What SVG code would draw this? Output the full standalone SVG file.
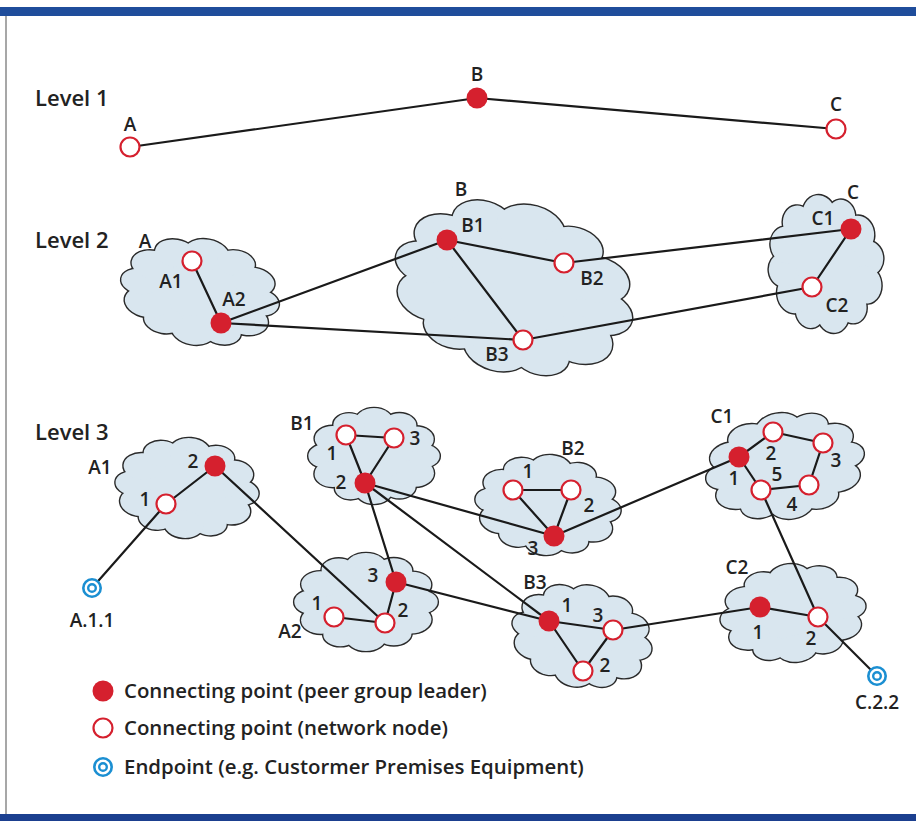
<svg xmlns="http://www.w3.org/2000/svg" xmlns:xlink="http://www.w3.org/1999/xlink" width="916" height="821" viewBox="0 0 916 821">
<style>
.co{fill:#2a2a2a;stroke:#2a2a2a;stroke-width:2.8}
.cf{fill:#d9e6ef;stroke:none}
.ln{stroke:#1a1a1a;stroke-width:2.2;fill:none;stroke-linecap:round}
.pl{fill:#d5202e}
.nn{fill:#fff;stroke:#d5202e;stroke-width:2.2}
.ep{fill:#fff;stroke:#1b8fd2;stroke-width:2.6}
.epi{fill:none;stroke:#1b8fd2;stroke-width:2.4}
.t{font-family:"Open Sans","Liberation Sans",sans-serif;font-weight:600;fill:#222}
.lab{font-size:19px;text-anchor:middle}
.lvl{font-size:22px}
.leg{font-size:20.4px}
</style>
<defs>
<g id="cu">
<circle cx="0" cy="0" r="80" vector-effect="non-scaling-stroke"/>
<circle cx="76" cy="0" r="25" vector-effect="non-scaling-stroke"/>
<circle cx="63.4" cy="38.1" r="28" vector-effect="non-scaling-stroke"/>
<circle cx="36.1" cy="68" r="24" vector-effect="non-scaling-stroke"/>
<circle cx="0" cy="74" r="28" vector-effect="non-scaling-stroke"/>
<circle cx="-39.1" cy="65.1" r="25" vector-effect="non-scaling-stroke"/>
<circle cx="-63.2" cy="36.5" r="29" vector-effect="non-scaling-stroke"/>
<circle cx="-77" cy="0" r="24" vector-effect="non-scaling-stroke"/>
<circle cx="-64.8" cy="-35.9" r="27" vector-effect="non-scaling-stroke"/>
<circle cx="-39.1" cy="-65.1" r="26" vector-effect="non-scaling-stroke"/>
<circle cx="0" cy="-73" r="29" vector-effect="non-scaling-stroke"/>
<circle cx="38.5" cy="-66.7" r="24" vector-effect="non-scaling-stroke"/>
<circle cx="64.1" cy="-37" r="27" vector-effect="non-scaling-stroke"/>
</g>
</defs>
<rect x="0" y="0" width="916" height="821" fill="#fff"/>
<rect x="0" y="7" width="916" height="9" fill="#1f4d9b"/>
<rect x="0" y="814" width="916" height="7" fill="#1b3f8f"/>
<line x1="6" y1="16" x2="6" y2="814" stroke="#8a8a8a" stroke-width="1.5"/>

<!-- level titles -->
<g id="level-titles" class="t lvl">
<text x="35" y="106">Level 1</text>
<text x="35" y="248">Level 2</text>
<text x="35" y="440">Level 3</text>
</g>

<!-- clouds (peer groups) -->
<g id="cloud-L2-A" transform="translate(200,292) rotate(10) scale(0.79,0.52)"><use href="#cu" class="co"/><use href="#cu" class="cf"/></g>
<g id="cloud-L2-B" transform="translate(514,288) rotate(16) scale(1.21,0.83)"><use href="#cu" class="co"/><use href="#cu" class="cf"/></g>
<g id="cloud-L2-C" transform="translate(826,264) rotate(-8) scale(0.57,0.68)"><use href="#cu" class="co"/><use href="#cu" class="cf"/></g>
<g id="cloud-L3-A1" transform="translate(187,488) rotate(5) scale(0.71,0.49)"><use href="#cu" class="co"/><use href="#cu" class="cf"/></g>
<g id="cloud-L3-B1" transform="translate(374,456) scale(-0.65,0.47)"><use href="#cu" class="co"/><use href="#cu" class="cf"/></g>
<g id="cloud-L3-B2" transform="translate(548,505) rotate(5) scale(0.72,0.49)"><use href="#cu" class="co"/><use href="#cu" class="cf"/></g>
<g id="cloud-L3-A2" transform="translate(366,602) scale(-0.71,0.48)"><use href="#cu" class="co"/><use href="#cu" class="cf"/></g>
<g id="cloud-L3-B3" transform="translate(582,636) rotate(12) scale(0.70,0.50)"><use href="#cu" class="co"/><use href="#cu" class="cf"/></g>
<g id="cloud-L3-C1" transform="translate(785,466) rotate(-10) scale(0.79,0.52)"><use href="#cu" class="co"/><use href="#cu" class="cf"/></g>
<g id="cloud-L3-C2" transform="translate(793,613) rotate(-6) scale(-0.72,0.48)"><use href="#cu" class="co"/><use href="#cu" class="cf"/></g>

<!-- connectors -->
<g id="connectors" class="ln">
<line x1="130" y1="147" x2="477" y2="98"/>
<line x1="477" y1="98" x2="836" y2="129"/>

<line x1="192" y1="261" x2="221" y2="323"/>
<line x1="221" y1="323" x2="447" y2="240"/>
<line x1="221" y1="323" x2="523" y2="340"/>
<line x1="447" y1="240" x2="564" y2="263"/>
<line x1="447" y1="240" x2="523" y2="340"/>
<line x1="564" y1="263" x2="851" y2="229"/>
<line x1="523" y1="340" x2="812" y2="287"/>
<line x1="851" y1="229" x2="812" y2="287"/>

<line x1="166" y1="504" x2="92" y2="588"/>
<line x1="166" y1="504" x2="215" y2="466"/>
<line x1="215" y1="466" x2="385" y2="623"/>
<line x1="334" y1="617" x2="385" y2="623"/>
<line x1="385" y1="623" x2="396" y2="582"/>
<line x1="396" y1="582" x2="365" y2="483"/>
<line x1="396" y1="582" x2="549" y2="621"/>
<line x1="346" y1="435" x2="394" y2="438"/>
<line x1="346" y1="435" x2="365" y2="483"/>
<line x1="394" y1="438" x2="365" y2="483"/>
<line x1="365" y1="483" x2="554" y2="536"/>
<line x1="365" y1="483" x2="549" y2="621"/>
<line x1="513" y1="490" x2="571" y2="490"/>
<line x1="513" y1="490" x2="554" y2="536"/>
<line x1="571" y1="490" x2="554" y2="536"/>
<line x1="554" y1="536" x2="739" y2="457"/>
<line x1="739" y1="457" x2="773" y2="432"/>
<line x1="773" y1="432" x2="823" y2="443"/>
<line x1="823" y1="443" x2="809" y2="485"/>
<line x1="809" y1="485" x2="761" y2="490"/>
<line x1="761" y1="490" x2="739" y2="457"/>
<line x1="761" y1="490" x2="818" y2="617"/>
<line x1="760" y1="607" x2="818" y2="617"/>
<line x1="818" y1="617" x2="877" y2="676"/>
<line x1="549" y1="621" x2="613" y2="630"/>
<line x1="549" y1="621" x2="583" y2="671"/>
<line x1="583" y1="671" x2="613" y2="630"/>
<line x1="613" y1="630" x2="760" y2="607"/>
</g>

<!-- Level 1 nodes -->
<g id="L1-A"><circle class="nn" cx="130" cy="147" r="9.5"/><text class="t lab" x="130" y="131">A</text></g>
<g id="L1-B"><circle class="pl" cx="477" cy="98" r="10.5"/><text class="t lab" x="477" y="81">B</text></g>
<g id="L1-C"><circle class="nn" cx="836" cy="129" r="9.5"/><text class="t lab" x="836" y="111">C</text></g>

<!-- Level 2 nodes -->
<g id="L2-A-label"><text class="t lab" x="145" y="248">A</text></g>
<g id="L2-A1"><circle class="nn" cx="192" cy="261" r="9.5"/><text class="t lab" x="171" y="288">A1</text></g>
<g id="L2-A2"><circle class="pl" cx="221" cy="323" r="10.5"/><text class="t lab" x="234" y="306">A2</text></g>
<g id="L2-B-label"><text class="t lab" x="461" y="196">B</text></g>
<g id="L2-B1"><circle class="pl" cx="447" cy="240" r="10.5"/><text class="t lab" x="473" y="232">B1</text></g>
<g id="L2-B2"><circle class="nn" cx="564" cy="263" r="9.5"/><text class="t lab" x="592" y="285">B2</text></g>
<g id="L2-B3"><circle class="nn" cx="523" cy="340" r="9.5"/><text class="t lab" x="497" y="361">B3</text></g>
<g id="L2-C-label"><text class="t lab" x="853" y="199">C</text></g>
<g id="L2-C1"><circle class="pl" cx="851" cy="229" r="10.5"/><text class="t lab" x="823" y="225">C1</text></g>
<g id="L2-C2"><circle class="nn" cx="812" cy="287" r="9.5"/><text class="t lab" x="837" y="312">C2</text></g>

<!-- Level 3 nodes -->
<g id="L3-A1-label"><text class="t lab" x="100" y="474">A1</text></g>
<g id="L3-A1-2"><circle class="pl" cx="215" cy="466" r="10.5"/><text class="t lab" x="193" y="468">2</text></g>
<g id="L3-A1-1"><circle class="nn" cx="166" cy="504" r="9.5"/><text class="t lab" x="145" y="506">1</text></g>
<g id="EP-A.1.1"><circle class="ep" cx="92" cy="588" r="8.7"/><circle class="epi" cx="92" cy="588" r="3.8"/><text class="t lab" x="92" y="627">A.1.1</text></g>

<g id="L3-B1-label"><text class="t lab" x="302" y="430">B1</text></g>
<g id="L3-B1-1"><circle class="nn" cx="346" cy="435" r="9.5"/><text class="t lab" x="332" y="460">1</text></g>
<g id="L3-B1-3"><circle class="nn" cx="394" cy="438" r="9.5"/><text class="t lab" x="415" y="445">3</text></g>
<g id="L3-B1-2"><circle class="pl" cx="365" cy="483" r="10.5"/><text class="t lab" x="341" y="489">2</text></g>

<g id="L3-B2-label"><text class="t lab" x="573" y="455">B2</text></g>
<g id="L3-B2-1"><circle class="nn" cx="513" cy="490" r="9.5"/><text class="t lab" x="528" y="478">1</text></g>
<g id="L3-B2-2"><circle class="nn" cx="571" cy="490" r="9.5"/><text class="t lab" x="589" y="512">2</text></g>
<g id="L3-B2-3"><circle class="pl" cx="554" cy="536" r="10.5"/><text class="t lab" x="533" y="555">3</text></g>

<g id="L3-A2-label"><text class="t lab" x="290" y="638">A2</text></g>
<g id="L3-A2-1"><circle class="nn" cx="334" cy="617" r="9.5"/><text class="t lab" x="317" y="610">1</text></g>
<g id="L3-A2-2"><circle class="nn" cx="385" cy="623" r="9.5"/><text class="t lab" x="403" y="617">2</text></g>
<g id="L3-A2-3"><circle class="pl" cx="396" cy="582" r="10.5"/><text class="t lab" x="373" y="582">3</text></g>

<g id="L3-B3-label"><text class="t lab" x="535" y="589">B3</text></g>
<g id="L3-B3-1"><circle class="pl" cx="549" cy="621" r="10.5"/><text class="t lab" x="567" y="612">1</text></g>
<g id="L3-B3-3"><circle class="nn" cx="613" cy="630" r="9.5"/><text class="t lab" x="598" y="622">3</text></g>
<g id="L3-B3-2"><circle class="nn" cx="583" cy="671" r="9.5"/><text class="t lab" x="605" y="672">2</text></g>

<g id="L3-C1-label"><text class="t lab" x="722" y="423">C1</text></g>
<g id="L3-C1-1"><circle class="pl" cx="739" cy="457" r="10.5"/><text class="t lab" x="734" y="485">1</text></g>
<g id="L3-C1-2"><circle class="nn" cx="773" cy="432" r="9.5"/><text class="t lab" x="771" y="460">2</text></g>
<g id="L3-C1-3"><circle class="nn" cx="823" cy="443" r="9.5"/><text class="t lab" x="836" y="467">3</text></g>
<g id="L3-C1-4"><circle class="nn" cx="809" cy="485" r="9.5"/><text class="t lab" x="792" y="511">4</text></g>
<g id="L3-C1-5"><circle class="nn" cx="761" cy="490" r="9.5"/><text class="t lab" x="777" y="481">5</text></g>

<g id="L3-C2-label"><text class="t lab" x="737" y="574">C2</text></g>
<g id="L3-C2-1"><circle class="pl" cx="760" cy="607" r="10.5"/><text class="t lab" x="758" y="639">1</text></g>
<g id="L3-C2-2"><circle class="nn" cx="818" cy="617" r="9.5"/><text class="t lab" x="811" y="645">2</text></g>
<g id="EP-C.2.2"><circle class="ep" cx="877" cy="676" r="8.7"/><circle class="epi" cx="877" cy="676" r="3.8"/><text class="t lab" x="877" y="709">C.2.2</text></g>

<!-- legend -->
<g id="legend">
<circle class="pl" cx="103" cy="691" r="10.5"/>
<text class="t leg" x="124" y="698">Connecting point (peer group leader)</text>
<circle class="nn" cx="103" cy="728" r="9.5"/>
<text class="t leg" x="124" y="735">Connecting point (network node)</text>
<circle class="ep" cx="103" cy="767" r="8.7"/><circle class="epi" cx="103" cy="767" r="3.8"/>
<text class="t leg" x="124" y="774">Endpoint (e.g. Custormer Premises Equipment)</text>
</g>
</svg>
